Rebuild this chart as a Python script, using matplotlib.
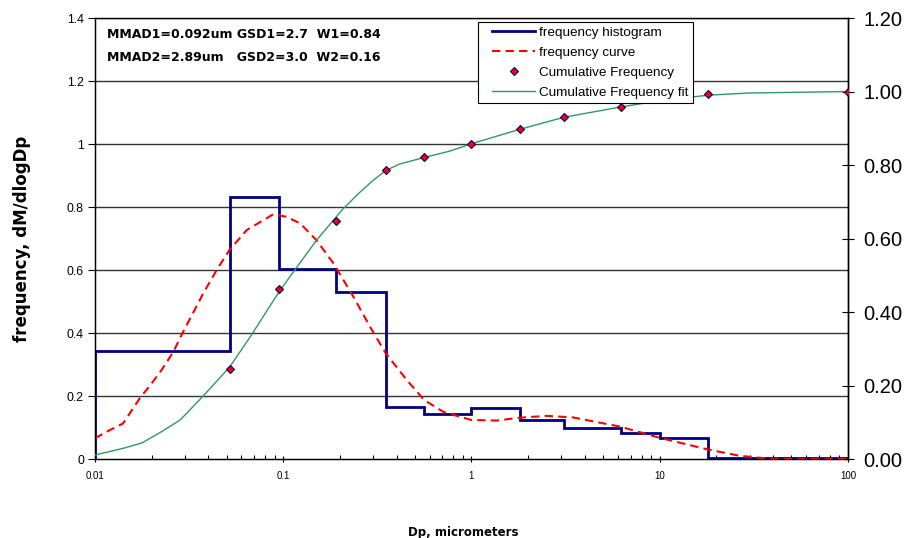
import matplotlib
matplotlib.use('Agg')
import matplotlib.pyplot as plt
from matplotlib.ticker import FixedLocator, LogLocator, NullFormatter, FuncFormatter
from matplotlib.legend_handler import HandlerLine2D
from matplotlib.lines import Line2D

plt.rcParams['font.family'] = ['Liberation Sans', 'DejaVu Sans']
BOLD = ['DejaVu Sans']

# histogram bin edges (um) and heights (dM/dlogDp)
hist_edges = [0.01, 0.052, 0.095, 0.19, 0.35, 0.56, 1.0, 1.8, 3.1, 6.2, 10, 18, 100]
hist_heights = [0.344, 0.831, 0.603, 0.531, 0.166, 0.143, 0.161, 0.124,
                0.097, 0.084, 0.068, 0.004]

# fitted frequency curve
curve_dp = [0.01, 0.012, 0.0141, 0.0173, 0.02, 0.0226, 0.0261, 0.0294, 0.0376,
            0.0443, 0.0517, 0.064, 0.0885, 0.104, 0.123, 0.15, 0.185, 0.236, 0.289,
            0.35, 0.453, 0.561, 0.708, 0.869, 1.0, 1.36, 1.79, 2.51, 3.47, 6.15,
            9.9, 17.8, 26.7, 40, 100]
curve_freq = [0.066, 0.092, 0.113, 0.193, 0.240, 0.283, 0.341, 0.404, 0.526,
              0.600, 0.663, 0.727, 0.777, 0.769, 0.748, 0.695, 0.621, 0.515, 0.420,
              0.336, 0.251, 0.187, 0.150, 0.134, 0.124, 0.122, 0.131, 0.137, 0.132,
              0.103, 0.068, 0.031, 0.010, 0.0, 0.0]

# cumulative frequency (right axis)
cum_dp = [0.052, 0.095, 0.19, 0.35, 0.56, 1.0, 1.8, 3.1, 6.2, 10, 18, 100]
cum_freq = [0.246, 0.464, 0.647, 0.787, 0.822, 0.858, 0.898, 0.930, 0.958, 0.980,
            0.993, 1.0]

# cumulative fit
fit_dp = [0.01, 0.0141, 0.0178, 0.0225, 0.0283, 0.0375, 0.052, 0.0667, 0.095, 0.115,
          0.15, 0.208, 0.2555, 0.30, 0.35, 0.417, 0.556, 0.769, 1.0, 1.8, 3.1, 6.2,
          10, 18, 30, 100]
fit_cum = [0.011, 0.029, 0.044, 0.074, 0.106, 0.171, 0.251, 0.332, 0.455, 0.514,
           0.595, 0.681, 0.726, 0.758, 0.785, 0.803, 0.820, 0.838, 0.858, 0.897,
           0.930, 0.958, 0.975, 0.990, 0.996, 1.0]

left_ticks = [0, 0.2, 0.4, 0.6, 0.8, 1.0, 1.2, 1.4]
right_ticks = [0, 0.2, 0.4, 0.6, 0.8, 1.0, 1.2]

fig = plt.figure(figsize=(9.09, 5.38), dpi=100)
ax = fig.add_axes([0.1045, 0.1468, 0.8284, 0.8197])

for y in left_ticks[1:]:
    ax.axhline(y, color='#333333', lw=1.0, zorder=1)

ax.stairs(hist_heights, hist_edges, baseline=0, color='#000080', lw=2.0, zorder=3)
ax.plot(curve_dp, curve_freq, color='red', lw=1.5, linestyle=(0, (4, 2.5)),
        label='frequency curve', zorder=4)

ax.set_xscale('log')
ax.set_xlim(0.01, 100)
ax.set_ylim(0, 1.4)
ax.yaxis.set_major_locator(FixedLocator(left_ticks))
ax.yaxis.set_major_formatter(FuncFormatter(lambda v, p: '%g' % v))
ax.xaxis.set_major_formatter(FuncFormatter(lambda v, p: '%g' % v))
ax.xaxis.set_minor_locator(LogLocator(base=10, subs=range(2, 10)))
ax.xaxis.set_minor_formatter(NullFormatter())
ax.tick_params(axis='y', labelsize=8.8, length=5, width=0.8, direction='out', pad=3)
ax.tick_params(axis='x', which='major', labelsize=7, length=5, width=0.8,
               direction='inout', pad=6)
ax.tick_params(axis='x', which='minor', length=3, width=0.8, direction='in')
for s in ax.spines.values():
    s.set_linewidth(1.0)
    s.set_color('black')
ax.spines['top'].set_color('#333333')

ax.set_ylabel('frequency, dM/dlogDp', fontsize=12, fontweight='bold', family=BOLD,
              labelpad=26)
ax.set_xlabel('Dp, micrometers', fontsize=8.5, fontweight='bold', family=BOLD)
ax.xaxis.set_label_coords(0.4887, -0.152)

ax2 = ax.twinx()
ax2.plot(fit_dp, fit_cum, color='#2E9B5E', lw=1.0, label='Cumulative Frequency fit',
         zorder=3)
ax2.plot(cum_dp, cum_freq, linestyle='none', marker='D', markersize=4.5,
         markerfacecolor='red', markeredgecolor='#000080', markeredgewidth=0.8,
         label='Cumulative Frequency', zorder=4)
ax2.set_ylim(0, 1.2)
ax2.yaxis.set_major_locator(FixedLocator(right_ticks))
ax2.yaxis.set_major_formatter(FuncFormatter(lambda v, p: '%.2f' % v))
ax2.tick_params(axis='y', labelsize=14.5, length=8, width=0.8, direction='inout', pad=7)
ax2.spines['right'].set_linewidth(1.0)

ax.text(0.016, 0.9637, 'MMAD1=0.092um GSD1=2.7  W1=0.84', transform=ax.transAxes,
        fontsize=9, fontweight='bold', family=BOLD, va='center')
ax.text(0.016, 0.9116, 'MMAD2=2.89um   GSD2=3.0  W2=0.16', transform=ax.transAxes,
        fontsize=9, fontweight='bold', family=BOLD, va='center')

# legend: proxy line for the histogram so its handle lines up with the others
hist_proxy = Line2D([], [], color='#000080', lw=2.0)
h1, l1 = ax.get_legend_handles_labels()
h2, l2 = ax2.get_legend_handles_labels()
handles = [hist_proxy, h1[0], h2[1], h2[0]]
labels = ['frequency histogram', l1[0], l2[1], l2[0]]
leg = ax2.legend(handles, labels, loc='upper left', bbox_to_anchor=(0.5086, 0.991),
                 fontsize=9.7, frameon=True, fancybox=False, framealpha=1,
                 edgecolor='black', handlelength=3.93, handletextpad=0.3,
                 labelspacing=0.56, borderpad=0.32, borderaxespad=0,
                 handler_map={Line2D: HandlerLine2D(xpad=0.74)})
leg.get_frame().set_linewidth(0.8)
leg.set_zorder(10)

fig.savefig('out.png', dpi=100)
